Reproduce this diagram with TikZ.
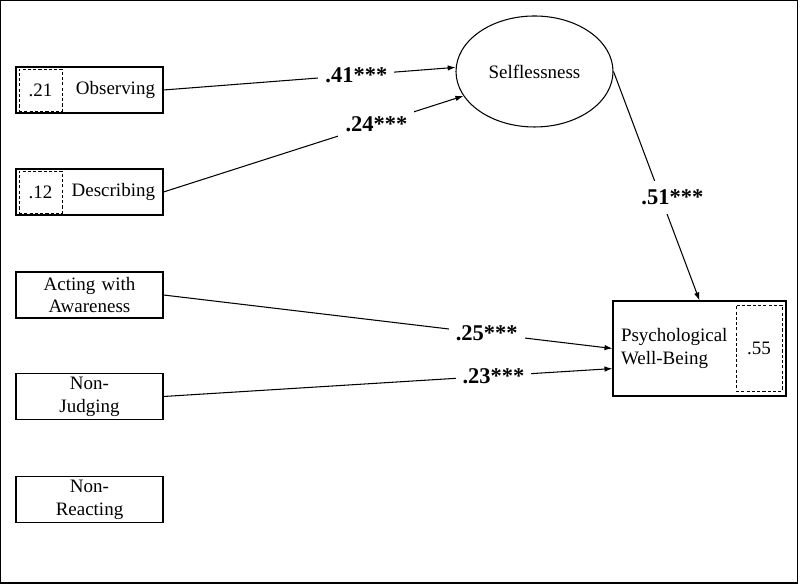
\documentclass[tikz,border=0pt]{standalone}
\usepackage{fontspec}
\setmainfont{Liberation Serif}
\usepackage{tikz}
\usetikzlibrary{arrows.meta}
\usetikzlibrary{shapes.geometric}

\tikzset{
  varbox/.style={draw, line width=0.6pt, minimum width=2.94cm, minimum height=0.92cm,
    text width=2.94cm, inner xsep=0pt, inner ysep=0pt, align=center,
    font=\fontsize{10.8}{13}\selectfont},
  rvarbox/.style={varbox, text width=2.62cm, inner xsep=0.16cm, align=right},
  outbox/.style={draw, line width=0.6pt, minimum width=3.46cm, minimum height=1.9cm,
    text width=3.14cm, inner xsep=0.16cm, inner ysep=0pt, align=left,
    font=\fontsize{10.8}{12.6}\selectfont},
  rsq/.style={draw, dashed, dash pattern=on 1.8pt off 1.2pt, line width=0.5pt,
    inner sep=0pt, font=\fontsize{10.8}{13}\selectfont},
  latent/.style={draw, ellipse, line width=0.6pt, minimum width=3.14cm, minimum height=2.22cm,
    inner sep=0pt, font=\fontsize{10.8}{13}\selectfont},
  path/.style={-{Latex[length=1.6mm,width=1.1mm]}, line width=0.6pt},
  coef/.style={fill=white, inner xsep=4pt, inner ysep=5pt,
    font=\fontsize{12.8}{15}\selectfont\bfseries}
}

\begin{document}
\begin{tikzpicture}
    \useasboundingbox (0,0) rectangle (16,11.7);
    \draw[line width=0.8pt] (0.01,0.04) rectangle (15.95,11.69);

    \node[rvarbox] (obs) at (1.79,9.90) {Observing};
    \node[rsq, minimum width=0.86cm, minimum height=0.84cm] (obsr) at (0.81,9.90) {.21};
    \node[rvarbox] (desc) at (1.79,7.86) {Describing};
    \node[rsq, minimum width=0.86cm, minimum height=0.84cm] (descr) at (0.81,7.86) {.12};
    \node[varbox] (act) at (1.79,5.80) {Acting with\\Awareness};
    \node[varbox] (judg) at (1.79,3.77) {Non-\\Judging};
    \node[varbox] (react) at (1.79,1.71) {Non-\\Reacting};

    \node[latent] (self) at (10.69,10.27) {Selflessness};
    \node[outbox] (pwb) at (13.99,4.73) {Psychological\\Well-Being};
    \node[rsq, minimum width=0.92cm, minimum height=1.72cm] (pwbr) at (15.18,4.74) {.55};

    \draw[path] (obs.east) -- node[coef, pos=0.66] {.41***} (self.177);
    \draw[path] (desc.east) -- node[coef, pos=0.71] {.24***} (self.199);
    \draw[path] (self.east) -- node[coef, pos=0.55, xshift=0.23cm] {.51***} (pwb.north);
    \draw[path] (act.east) -- node[coef, pos=0.72] {.25***} (pwb.west);
    \draw[path] (judg.east) -- node[coef, pos=0.735] {.23***} (pwb.193);
\end{tikzpicture}
\end{document}
